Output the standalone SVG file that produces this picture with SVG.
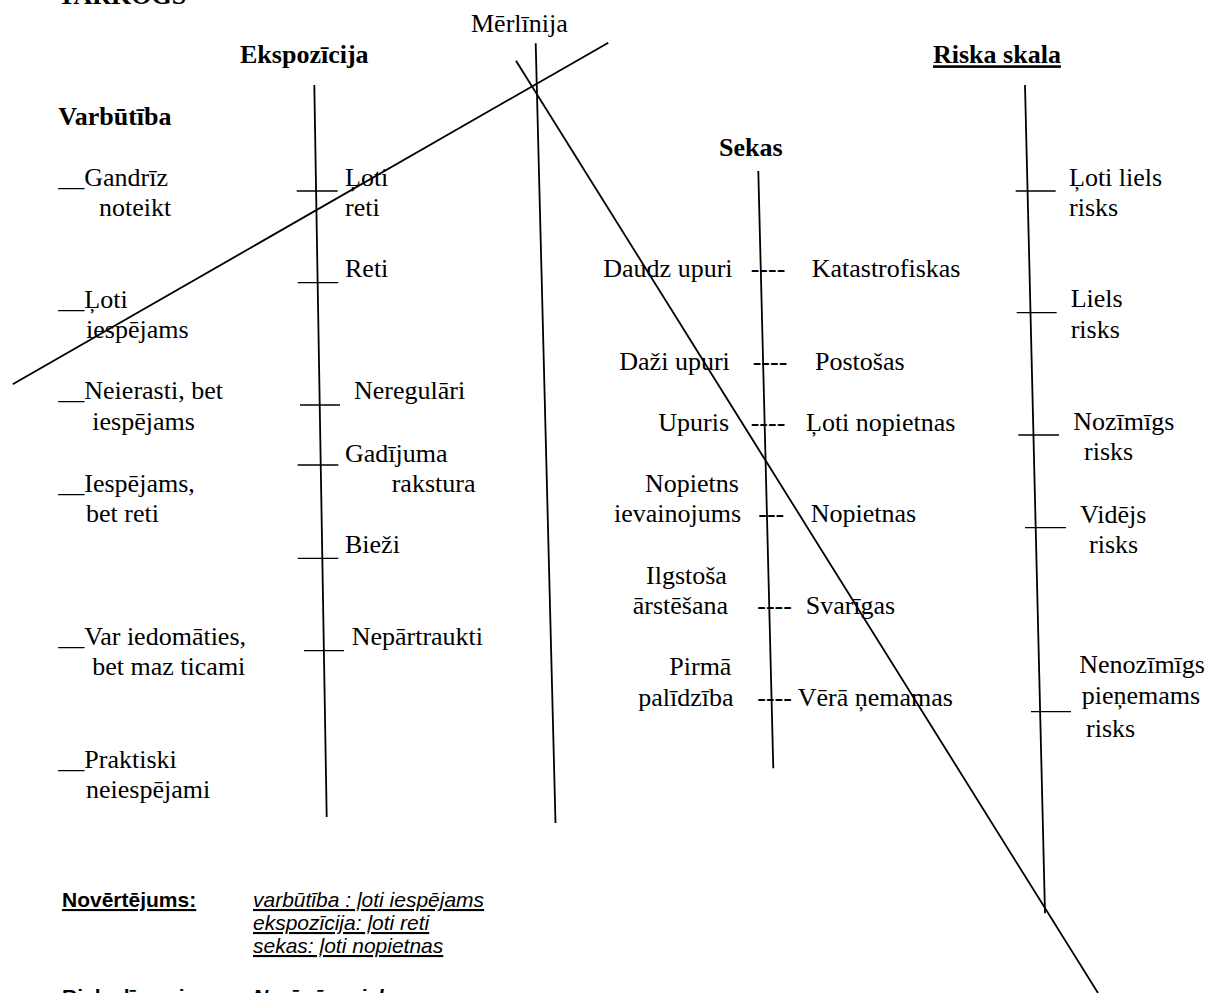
<svg xmlns="http://www.w3.org/2000/svg" width="1209" height="993" viewBox="0 0 1209 993">
<style>
.t{font-family:"Liberation Serif","Times New Roman",serif;font-size:26px;fill:#000}
.b{font-weight:bold}
.u{text-decoration:underline}
.s{font-family:"Liberation Sans",Arial,sans-serif;font-size:21px;fill:#000}
.i{font-style:italic}
.ln{stroke:#000;stroke-width:1.8;fill:none;stroke-linecap:butt}
.tk{stroke:#000;stroke-width:1.3;fill:none}
</style>
<rect width="1209" height="993" fill="#fff"/>
<g id="connectors">
<line class="ln" x1="314.3" y1="85" x2="326.7" y2="817"/>
<line class="ln" x1="535.7" y1="43.3" x2="555.5" y2="823"/>
<line class="ln" x1="758.3" y1="171" x2="773.3" y2="768.3"/>
<line class="ln" x1="1025" y1="85" x2="1045" y2="913.3"/>
<line class="ln" x1="12.7" y1="384.3" x2="608.3" y2="42.7"/>
<line class="ln" x1="516" y1="60.7" x2="1098" y2="993"/>
<line class="tk" x1="296.7" y1="191" x2="337.7" y2="191"/>
<line class="tk" x1="297.7" y1="282.7" x2="338.3" y2="282.7"/>
<line class="tk" x1="300" y1="405" x2="340" y2="405"/>
<line class="tk" x1="297.7" y1="465" x2="338.3" y2="465"/>
<line class="tk" x1="297.7" y1="558.3" x2="338.3" y2="558.3"/>
<line class="tk" x1="304" y1="650.7" x2="344" y2="650.7"/>
<line class="tk" x1="1015.7" y1="191" x2="1055.7" y2="191"/>
<line class="tk" x1="1016.7" y1="312.7" x2="1056.7" y2="312.7"/>
<line class="tk" x1="1018.3" y1="435" x2="1059" y2="435"/>
<line class="tk" x1="1025" y1="527.7" x2="1066" y2="527.7"/>
<line class="tk" x1="1031" y1="711.7" x2="1071" y2="711.7"/>
</g>
<g id="title"><text class="t b" x="58" y="3.5">TARKOGS</text></g>
<g id="h-ekspozicija"><text class="t b" x="240" y="63">Ekspozīcija</text></g>
<g id="h-varbutiba"><text class="t b" x="58.3" y="125">Varbūtība</text></g>
<g id="h-merlinija"><text class="t" x="471" y="32.3">Mērlīnija</text></g>
<g id="h-sekas"><text class="t b" x="719" y="156">Sekas</text></g>
<g id="h-riska"><text class="t b u" x="933" y="63.3">Riska skala</text></g>

<g id="v1"><text class="t" x="58.3" y="185.7">__Gandrīz</text><text class="t" x="99" y="215.7">noteikt</text></g>
<g id="v2"><text class="t" x="58.3" y="307.7">__Ļoti</text><text class="t" x="86" y="338">iespējams</text></g>
<g id="v3"><text class="t" x="58.3" y="399.3">__Neierasti, bet</text><text class="t" x="92.3" y="430">iespējams</text></g>
<g id="v4"><text class="t" x="58.3" y="491.7">__Iespējams,</text><text class="t" x="86" y="521.7">bet reti</text></g>
<g id="v5"><text class="t" x="58.3" y="645">__Var iedomāties,</text><text class="t" x="92.3" y="675">bet maz ticami</text></g>
<g id="v6"><text class="t" x="58.3" y="768.3">__Praktiski</text><text class="t" x="86" y="798.3">neiespējami</text></g>

<g id="e1"><text class="t" x="345" y="185.7">Ļoti</text><text class="t" x="345" y="215.7">reti</text></g>
<g id="e2"><text class="t" x="345" y="277.3">Reti</text></g>
<g id="e3"><text class="t" x="354" y="399.3">Neregulāri</text></g>
<g id="e4"><text class="t" x="345" y="461.7">Gadījuma</text><text class="t" x="391.7" y="491.7">rakstura</text></g>
<g id="e5"><text class="t" x="345" y="553.3">Bieži</text></g>
<g id="e6"><text class="t" x="351.7" y="645">Nepārtraukti</text></g>

<g id="s1"><text class="t" x="603.3" y="276.7">Daudz upuri</text><text class="t" x="750.7" y="276.7">----</text><text class="t" x="811.7" y="276.7">Katastrofiskas</text></g>
<g id="s2"><text class="t" x="619.3" y="370">Daži upuri</text><text class="t" x="752.7" y="370">----</text><text class="t" x="815" y="370">Postošas</text></g>
<g id="s3"><text class="t" x="658.3" y="430.7">Upuris</text><text class="t" x="750.7" y="430.7">----</text><text class="t" x="806" y="430.7">Ļoti nopietnas</text></g>
<g id="s4"><text class="t" x="645" y="491.7">Nopietns</text><text class="t" x="614" y="522.3">ievainojums</text><text class="t" x="758.3" y="522.3">---</text><text class="t" x="810.7" y="522.3">Nopietnas</text></g>
<g id="s5"><text class="t" x="646" y="584.3">Ilgstoša</text><text class="t" x="632.7" y="614">ārstēšana</text><text class="t" x="757.3" y="614">----</text><text class="t" x="805.7" y="614">Svarīgas</text></g>
<g id="s6"><text class="t" x="669.3" y="675">Pirmā</text><text class="t" x="638.3" y="706">palīdzība</text><text class="t" x="757.3" y="706">----</text><text class="t" x="797.7" y="706">Vērā ņemamas</text></g>

<g id="r1"><text class="t" x="1069" y="185.7">Ļoti liels</text><text class="t" x="1069" y="215.7">risks</text></g>
<g id="r2"><text class="t" x="1070.7" y="307.3">Liels</text><text class="t" x="1070.7" y="338.3">risks</text></g>
<g id="r3"><text class="t" x="1073.3" y="430">Nozīmīgs</text><text class="t" x="1084" y="460">risks</text></g>
<g id="r4"><text class="t" x="1080" y="523.3">Vidējs</text><text class="t" x="1089" y="553.3">risks</text></g>
<g id="r5"><text class="t" x="1079.3" y="673.3">Nenozīmīgs</text><text class="t" x="1081.7" y="704.3">pieņemams</text><text class="t" x="1086" y="736.7">risks</text></g>

<g id="novertejums" xml:space="preserve"><text class="s b u" x="62" y="907">Novērtējums:</text><text class="s i u" x="253" y="907">varbūtība :  ļoti iespējams</text><text class="s i u" x="253" y="930">ekspozīcija:  ļoti reti</text><text class="s i u" x="253" y="953">sekas: ļoti nopietnas</text></g>
<g id="riska-limenis"><text class="s b" x="62" y="1004">Riska līmenis:</text><text class="s b i" x="253" y="1004">Nozīmīgs risks</text></g>
</svg>
